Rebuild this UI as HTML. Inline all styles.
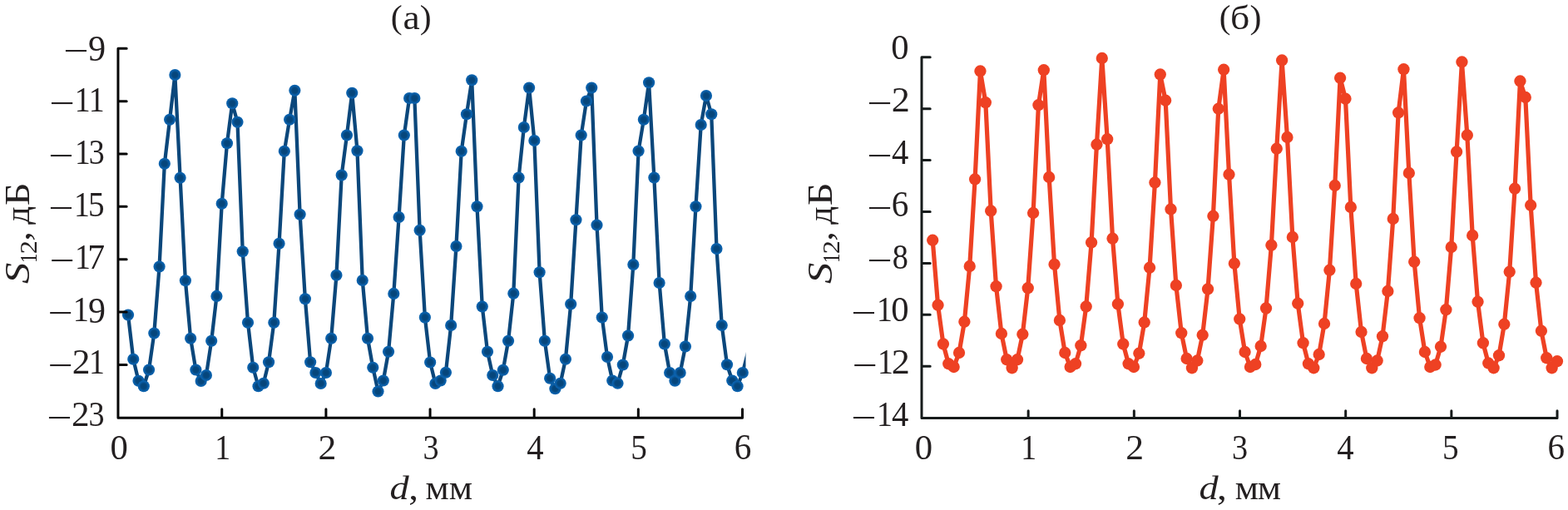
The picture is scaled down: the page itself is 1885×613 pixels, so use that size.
<!DOCTYPE html>
<html lang="ru"><head><meta charset="utf-8"><title>S12(d)</title>
<style>html,body{margin:0;padding:0;background:#fff}body{width:1885px;height:613px;overflow:hidden}svg{display:block}text{font-family:"Liberation Serif",serif;font-size:42px;fill:#231f20}.ax{stroke-width:3.00;fill:none;stroke-linecap:round;stroke-linejoin:round}</style></head><body>
<svg width="1885" height="613" viewBox="0 0 1885 613">
<rect width="1885" height="613" fill="#fff"/>
<defs><clipPath id="cl"><rect x="0" y="0" width="896.5" height="613"/></clipPath><radialGradient id="mg"><stop offset="0" stop-color="#06457a"/><stop offset="0.45" stop-color="#06477d"/><stop offset="0.8" stop-color="#0a5fa9"/><stop offset="1" stop-color="#0b63ae"/></radialGradient></defs>
<path d="M154.00 378.50 L160.26 431.75 L166.52 457.75 L172.78 464.25 L179.04 444.50 L185.31 400.50 L191.57 320.50 L197.83 196.75 L204.09 143.75 L210.35 90.00 L216.61 213.75 L222.87 337.25 L229.13 406.75 L235.39 444.50 L241.65 458.00 L247.92 451.00 L254.18 409.75 L260.44 355.95 L266.70 244.75 L272.96 172.25 L279.22 124.25 L285.48 146.75 L291.74 302.25 L298.00 387.75 L304.26 441.75 L310.52 464.25 L316.79 460.75 L323.05 435.25 L329.31 387.75 L335.57 292.75 L341.83 181.75 L348.09 143.75 L354.35 108.75 L360.61 257.75 L366.87 359.30 L373.13 435.25 L379.40 448.00 L385.66 461.00 L391.92 448.00 L398.18 406.75 L404.44 330.75 L410.70 210.50 L416.96 162.50 L423.22 111.75 L429.48 181.25 L435.75 337.00 L442.01 406.75 L448.27 441.75 L454.53 470.50 L460.79 457.50 L467.05 422.75 L473.31 352.90 L479.57 261.00 L485.83 162.50 L492.09 118.00 L498.36 118.00 L504.62 276.75 L510.88 381.50 L517.14 435.50 L523.40 461.00 L529.66 457.50 L535.92 447.75 L542.18 391.00 L548.44 296.00 L554.70 181.75 L560.97 137.25 L567.23 96.25 L573.49 248.25 L579.75 368.50 L586.01 422.75 L592.27 451.00 L598.53 464.25 L604.79 444.75 L611.05 409.75 L617.31 352.70 L623.58 213.50 L629.84 153.00 L636.10 105.50 L642.36 169.00 L648.62 327.25 L654.88 409.75 L661.14 454.75 L667.40 467.25 L673.66 460.75 L679.92 431.75 L686.19 365.50 L692.45 264.25 L698.71 162.50 L704.97 121.50 L711.23 105.50 L717.49 270.50 L723.75 381.50 L730.01 429.00 L736.27 457.50 L742.53 460.75 L748.79 438.50 L755.06 403.50 L761.32 318.00 L767.58 181.50 L773.84 143.75 L780.10 99.25 L786.36 213.50 L792.62 340.00 L798.88 413.50 L805.14 448.00 L811.40 457.75 L817.67 448.00 L823.93 416.50 L830.19 356.10 L836.45 248.25 L842.71 150.00 L848.97 115.00 L855.23 137.25 L861.49 299.00 L867.75 391.00 L874.01 438.25 L880.28 457.50 L886.54 464.25 L892.80 448.00 L899.06 423.50" fill="none" stroke="#0b477b" stroke-width="4.30" stroke-linejoin="round" clip-path="url(#cl)"/>
<g fill="url(#mg)" stroke="none" stroke-width="0.00">
<circle cx="154.00" cy="378.50" r="7.10"/>
<circle cx="160.26" cy="431.75" r="7.10"/>
<circle cx="166.52" cy="457.75" r="7.10"/>
<circle cx="172.78" cy="464.25" r="7.10"/>
<circle cx="179.04" cy="444.50" r="7.10"/>
<circle cx="185.31" cy="400.50" r="7.10"/>
<circle cx="191.57" cy="320.50" r="7.10"/>
<circle cx="197.83" cy="196.75" r="7.10"/>
<circle cx="204.09" cy="143.75" r="7.10"/>
<circle cx="210.35" cy="90.00" r="7.10"/>
<circle cx="216.61" cy="213.75" r="7.10"/>
<circle cx="222.87" cy="337.25" r="7.10"/>
<circle cx="229.13" cy="406.75" r="7.10"/>
<circle cx="235.39" cy="444.50" r="7.10"/>
<circle cx="241.65" cy="458.00" r="7.10"/>
<circle cx="247.92" cy="451.00" r="7.10"/>
<circle cx="254.18" cy="409.75" r="7.10"/>
<circle cx="260.44" cy="355.95" r="7.10"/>
<circle cx="266.70" cy="244.75" r="7.10"/>
<circle cx="272.96" cy="172.25" r="7.10"/>
<circle cx="279.22" cy="124.25" r="7.10"/>
<circle cx="285.48" cy="146.75" r="7.10"/>
<circle cx="291.74" cy="302.25" r="7.10"/>
<circle cx="298.00" cy="387.75" r="7.10"/>
<circle cx="304.26" cy="441.75" r="7.10"/>
<circle cx="310.52" cy="464.25" r="7.10"/>
<circle cx="316.79" cy="460.75" r="7.10"/>
<circle cx="323.05" cy="435.25" r="7.10"/>
<circle cx="329.31" cy="387.75" r="7.10"/>
<circle cx="335.57" cy="292.75" r="7.10"/>
<circle cx="341.83" cy="181.75" r="7.10"/>
<circle cx="348.09" cy="143.75" r="7.10"/>
<circle cx="354.35" cy="108.75" r="7.10"/>
<circle cx="360.61" cy="257.75" r="7.10"/>
<circle cx="366.87" cy="359.30" r="7.10"/>
<circle cx="373.13" cy="435.25" r="7.10"/>
<circle cx="379.40" cy="448.00" r="7.10"/>
<circle cx="385.66" cy="461.00" r="7.10"/>
<circle cx="391.92" cy="448.00" r="7.10"/>
<circle cx="398.18" cy="406.75" r="7.10"/>
<circle cx="404.44" cy="330.75" r="7.10"/>
<circle cx="410.70" cy="210.50" r="7.10"/>
<circle cx="416.96" cy="162.50" r="7.10"/>
<circle cx="423.22" cy="111.75" r="7.10"/>
<circle cx="429.48" cy="181.25" r="7.10"/>
<circle cx="435.75" cy="337.00" r="7.10"/>
<circle cx="442.01" cy="406.75" r="7.10"/>
<circle cx="448.27" cy="441.75" r="7.10"/>
<circle cx="454.53" cy="470.50" r="7.10"/>
<circle cx="460.79" cy="457.50" r="7.10"/>
<circle cx="467.05" cy="422.75" r="7.10"/>
<circle cx="473.31" cy="352.90" r="7.10"/>
<circle cx="479.57" cy="261.00" r="7.10"/>
<circle cx="485.83" cy="162.50" r="7.10"/>
<circle cx="492.09" cy="118.00" r="7.10"/>
<circle cx="498.36" cy="118.00" r="7.10"/>
<circle cx="504.62" cy="276.75" r="7.10"/>
<circle cx="510.88" cy="381.50" r="7.10"/>
<circle cx="517.14" cy="435.50" r="7.10"/>
<circle cx="523.40" cy="461.00" r="7.10"/>
<circle cx="529.66" cy="457.50" r="7.10"/>
<circle cx="535.92" cy="447.75" r="7.10"/>
<circle cx="542.18" cy="391.00" r="7.10"/>
<circle cx="548.44" cy="296.00" r="7.10"/>
<circle cx="554.70" cy="181.75" r="7.10"/>
<circle cx="560.97" cy="137.25" r="7.10"/>
<circle cx="567.23" cy="96.25" r="7.10"/>
<circle cx="573.49" cy="248.25" r="7.10"/>
<circle cx="579.75" cy="368.50" r="7.10"/>
<circle cx="586.01" cy="422.75" r="7.10"/>
<circle cx="592.27" cy="451.00" r="7.10"/>
<circle cx="598.53" cy="464.25" r="7.10"/>
<circle cx="604.79" cy="444.75" r="7.10"/>
<circle cx="611.05" cy="409.75" r="7.10"/>
<circle cx="617.31" cy="352.70" r="7.10"/>
<circle cx="623.58" cy="213.50" r="7.10"/>
<circle cx="629.84" cy="153.00" r="7.10"/>
<circle cx="636.10" cy="105.50" r="7.10"/>
<circle cx="642.36" cy="169.00" r="7.10"/>
<circle cx="648.62" cy="327.25" r="7.10"/>
<circle cx="654.88" cy="409.75" r="7.10"/>
<circle cx="661.14" cy="454.75" r="7.10"/>
<circle cx="667.40" cy="467.25" r="7.10"/>
<circle cx="673.66" cy="460.75" r="7.10"/>
<circle cx="679.92" cy="431.75" r="7.10"/>
<circle cx="686.19" cy="365.50" r="7.10"/>
<circle cx="692.45" cy="264.25" r="7.10"/>
<circle cx="698.71" cy="162.50" r="7.10"/>
<circle cx="704.97" cy="121.50" r="7.10"/>
<circle cx="711.23" cy="105.50" r="7.10"/>
<circle cx="717.49" cy="270.50" r="7.10"/>
<circle cx="723.75" cy="381.50" r="7.10"/>
<circle cx="730.01" cy="429.00" r="7.10"/>
<circle cx="736.27" cy="457.50" r="7.10"/>
<circle cx="742.53" cy="460.75" r="7.10"/>
<circle cx="748.79" cy="438.50" r="7.10"/>
<circle cx="755.06" cy="403.50" r="7.10"/>
<circle cx="761.32" cy="318.00" r="7.10"/>
<circle cx="767.58" cy="181.50" r="7.10"/>
<circle cx="773.84" cy="143.75" r="7.10"/>
<circle cx="780.10" cy="99.25" r="7.10"/>
<circle cx="786.36" cy="213.50" r="7.10"/>
<circle cx="792.62" cy="340.00" r="7.10"/>
<circle cx="798.88" cy="413.50" r="7.10"/>
<circle cx="805.14" cy="448.00" r="7.10"/>
<circle cx="811.40" cy="457.75" r="7.10"/>
<circle cx="817.67" cy="448.00" r="7.10"/>
<circle cx="823.93" cy="416.50" r="7.10"/>
<circle cx="830.19" cy="356.10" r="7.10"/>
<circle cx="836.45" cy="248.25" r="7.10"/>
<circle cx="842.71" cy="150.00" r="7.10"/>
<circle cx="848.97" cy="115.00" r="7.10"/>
<circle cx="855.23" cy="137.25" r="7.10"/>
<circle cx="861.49" cy="299.00" r="7.10"/>
<circle cx="867.75" cy="391.00" r="7.10"/>
<circle cx="874.01" cy="438.25" r="7.10"/>
<circle cx="880.28" cy="457.50" r="7.10"/>
<circle cx="886.54" cy="464.25" r="7.10"/>
<circle cx="892.80" cy="448.00" r="7.10"/>
</g>
<path class="ax" stroke="#060606" d="M141.95 58.30 V502.20 H892.50 M141.95 58.30 h10.20 M141.95 121.65 h10.20 M141.95 185.00 h10.20 M141.95 248.35 h10.20 M141.95 311.70 h10.20 M141.95 375.05 h10.20 M141.95 438.40 h10.20 M266.75 502.20 v-10.50 M391.90 502.20 v-10.50 M517.05 502.20 v-10.50 M642.20 502.20 v-10.50 M767.35 502.20 v-10.50 M892.50 502.20 v-10.50"/>
<text><tspan x="132.57" y="551.90" textLength="21.35" lengthAdjust="spacingAndGlyphs">0</tspan></text>
<text><tspan x="258.31" y="551.90" textLength="18.89" lengthAdjust="spacingAndGlyphs">1</tspan></text>
<text><tspan x="382.64" y="551.90" textLength="21.83" lengthAdjust="spacingAndGlyphs">2</tspan></text>
<text><tspan x="508.61" y="551.90" textLength="19.12" lengthAdjust="spacingAndGlyphs">3</tspan></text>
<text><tspan x="633.13" y="551.90" textLength="20.33" lengthAdjust="spacingAndGlyphs">4</tspan></text>
<text><tspan x="758.22" y="551.90" textLength="19.61" lengthAdjust="spacingAndGlyphs">5</tspan></text>
<text><tspan x="882.86" y="551.86" font-size="44.80" textLength="20.60" lengthAdjust="spacingAndGlyphs">6</tspan></text>
<text><tspan x="76.31" y="74.90" textLength="30.42" lengthAdjust="spacingAndGlyphs">−</tspan><tspan x="105.94" y="72.56" font-size="44.80" textLength="21.09" lengthAdjust="spacingAndGlyphs">9</tspan></text>
<text><tspan x="59.19" y="137.90" textLength="30.66" lengthAdjust="spacingAndGlyphs">−</tspan><tspan x="89.78" y="133.95" textLength="18.89" lengthAdjust="spacingAndGlyphs">1</tspan><tspan x="106.78" y="133.95" textLength="18.89" lengthAdjust="spacingAndGlyphs">1</tspan></text>
<text><tspan x="58.31" y="200.90" textLength="30.42" lengthAdjust="spacingAndGlyphs">−</tspan><tspan x="89.90" y="196.95" textLength="18.75" lengthAdjust="spacingAndGlyphs">1</tspan><tspan x="106.68" y="196.95" textLength="19.00" lengthAdjust="spacingAndGlyphs">3</tspan></text>
<text><tspan x="58.31" y="263.90" textLength="30.42" lengthAdjust="spacingAndGlyphs">−</tspan><tspan x="88.88" y="259.95" textLength="18.89" lengthAdjust="spacingAndGlyphs">1</tspan><tspan x="106.12" y="259.95" textLength="19.61" lengthAdjust="spacingAndGlyphs">5</tspan></text>
<text><tspan x="59.42" y="326.90" textLength="30.30" lengthAdjust="spacingAndGlyphs">−</tspan><tspan x="89.88" y="322.95" textLength="18.89" lengthAdjust="spacingAndGlyphs">1</tspan><tspan x="105.25" y="322.95" textLength="20.85" lengthAdjust="spacingAndGlyphs">7</tspan></text>
<text><tspan x="57.42" y="389.90" textLength="30.30" lengthAdjust="spacingAndGlyphs">−</tspan><tspan x="87.73" y="385.95" textLength="19.17" lengthAdjust="spacingAndGlyphs">1</tspan><tspan x="106.05" y="387.56" font-size="44.80" textLength="20.97" lengthAdjust="spacingAndGlyphs">9</tspan></text>
<text><tspan x="57.42" y="452.90" textLength="30.30" lengthAdjust="spacingAndGlyphs">−</tspan><tspan x="86.89" y="448.95" textLength="21.70" lengthAdjust="spacingAndGlyphs">2</tspan><tspan x="106.88" y="448.95" textLength="18.89" lengthAdjust="spacingAndGlyphs">1</tspan></text>
<text><tspan x="56.31" y="515.90" textLength="30.42" lengthAdjust="spacingAndGlyphs">−</tspan><tspan x="86.00" y="511.95" textLength="21.58" lengthAdjust="spacingAndGlyphs">2</tspan><tspan x="106.47" y="511.95" textLength="19.12" lengthAdjust="spacingAndGlyphs">3</tspan></text>
<path d="M1121.20 288.75 L1127.56 366.75 L1133.92 413.50 L1140.29 437.25 L1146.65 441.00 L1153.01 424.00 L1159.38 386.75 L1165.74 320.00 L1172.10 215.50 L1178.46 85.50 L1184.83 123.25 L1191.19 253.50 L1197.55 344.25 L1203.91 401.00 L1210.28 432.25 L1216.64 442.25 L1223.00 432.25 L1229.36 401.75 L1235.73 346.25 L1242.09 256.00 L1248.45 126.25 L1254.81 84.25 L1261.17 213.00 L1267.54 317.75 L1273.90 385.00 L1280.26 424.00 L1286.62 441.00 L1292.99 437.25 L1299.35 415.25 L1305.71 368.50 L1312.08 291.50 L1318.44 173.75 L1324.80 70.00 L1331.16 167.25 L1337.53 286.75 L1343.89 365.50 L1350.25 413.50 L1356.61 437.25 L1362.98 441.00 L1369.34 424.75 L1375.70 387.50 L1382.06 321.75 L1388.42 219.50 L1394.79 89.50 L1401.15 120.75 L1407.51 251.50 L1413.88 343.00 L1420.24 400.25 L1426.60 431.00 L1432.96 442.25 L1439.33 433.50 L1445.69 402.75 L1452.05 347.50 L1458.41 259.75 L1464.78 130.75 L1471.14 83.75 L1477.50 209.75 L1483.86 316.75 L1490.22 383.50 L1496.59 423.00 L1502.95 441.00 L1509.31 438.00 L1515.67 416.00 L1522.04 370.50 L1528.40 294.75 L1534.76 178.75 L1541.12 72.50 L1547.49 165.00 L1553.85 285.00 L1560.21 364.75 L1566.58 412.25 L1572.94 437.25 L1579.30 442.25 L1585.66 426.00 L1592.03 389.00 L1598.39 324.75 L1604.75 223.00 L1611.11 93.75 L1617.47 118.75 L1623.84 249.00 L1630.20 341.00 L1636.56 399.00 L1642.93 431.00 L1649.29 442.25 L1655.65 433.50 L1662.01 404.25 L1668.38 350.00 L1674.74 263.00 L1681.10 135.50 L1687.46 83.25 L1693.83 208.00 L1700.19 314.75 L1706.55 382.25 L1712.91 423.00 L1719.28 441.00 L1725.64 438.50 L1732.00 416.75 L1738.36 372.25 L1744.72 297.00 L1751.09 182.50 L1757.45 74.50 L1763.81 162.50 L1770.18 283.00 L1776.54 362.75 L1782.90 412.25 L1789.26 436.50 L1795.62 442.25 L1801.99 427.25 L1808.35 389.75 L1814.71 326.75 L1821.08 226.75 L1827.44 97.50 L1833.80 117.00 L1840.16 246.75 L1846.53 339.75 L1852.89 397.75 L1859.25 430.25 L1865.61 442.25 L1871.97 434.25" fill="none" stroke="#ee4123" stroke-width="5.20" stroke-linejoin="round"/>
<g fill="#ee4123" stroke="none" stroke-width="0.00">
<circle cx="1121.20" cy="288.75" r="7.15"/>
<circle cx="1127.56" cy="366.75" r="7.15"/>
<circle cx="1133.92" cy="413.50" r="7.15"/>
<circle cx="1140.29" cy="437.25" r="7.15"/>
<circle cx="1146.65" cy="441.00" r="7.15"/>
<circle cx="1153.01" cy="424.00" r="7.15"/>
<circle cx="1159.38" cy="386.75" r="7.15"/>
<circle cx="1165.74" cy="320.00" r="7.15"/>
<circle cx="1172.10" cy="215.50" r="7.15"/>
<circle cx="1178.46" cy="85.50" r="7.15"/>
<circle cx="1184.83" cy="123.25" r="7.15"/>
<circle cx="1191.19" cy="253.50" r="7.15"/>
<circle cx="1197.55" cy="344.25" r="7.15"/>
<circle cx="1203.91" cy="401.00" r="7.15"/>
<circle cx="1210.28" cy="432.25" r="7.15"/>
<circle cx="1216.64" cy="442.25" r="7.15"/>
<circle cx="1223.00" cy="432.25" r="7.15"/>
<circle cx="1229.36" cy="401.75" r="7.15"/>
<circle cx="1235.73" cy="346.25" r="7.15"/>
<circle cx="1242.09" cy="256.00" r="7.15"/>
<circle cx="1248.45" cy="126.25" r="7.15"/>
<circle cx="1254.81" cy="84.25" r="7.15"/>
<circle cx="1261.17" cy="213.00" r="7.15"/>
<circle cx="1267.54" cy="317.75" r="7.15"/>
<circle cx="1273.90" cy="385.00" r="7.15"/>
<circle cx="1280.26" cy="424.00" r="7.15"/>
<circle cx="1286.62" cy="441.00" r="7.15"/>
<circle cx="1292.99" cy="437.25" r="7.15"/>
<circle cx="1299.35" cy="415.25" r="7.15"/>
<circle cx="1305.71" cy="368.50" r="7.15"/>
<circle cx="1312.08" cy="291.50" r="7.15"/>
<circle cx="1318.44" cy="173.75" r="7.15"/>
<circle cx="1324.80" cy="70.00" r="7.15"/>
<circle cx="1331.16" cy="167.25" r="7.15"/>
<circle cx="1337.53" cy="286.75" r="7.15"/>
<circle cx="1343.89" cy="365.50" r="7.15"/>
<circle cx="1350.25" cy="413.50" r="7.15"/>
<circle cx="1356.61" cy="437.25" r="7.15"/>
<circle cx="1362.98" cy="441.00" r="7.15"/>
<circle cx="1369.34" cy="424.75" r="7.15"/>
<circle cx="1375.70" cy="387.50" r="7.15"/>
<circle cx="1382.06" cy="321.75" r="7.15"/>
<circle cx="1388.42" cy="219.50" r="7.15"/>
<circle cx="1394.79" cy="89.50" r="7.15"/>
<circle cx="1401.15" cy="120.75" r="7.15"/>
<circle cx="1407.51" cy="251.50" r="7.15"/>
<circle cx="1413.88" cy="343.00" r="7.15"/>
<circle cx="1420.24" cy="400.25" r="7.15"/>
<circle cx="1426.60" cy="431.00" r="7.15"/>
<circle cx="1432.96" cy="442.25" r="7.15"/>
<circle cx="1439.33" cy="433.50" r="7.15"/>
<circle cx="1445.69" cy="402.75" r="7.15"/>
<circle cx="1452.05" cy="347.50" r="7.15"/>
<circle cx="1458.41" cy="259.75" r="7.15"/>
<circle cx="1464.78" cy="130.75" r="7.15"/>
<circle cx="1471.14" cy="83.75" r="7.15"/>
<circle cx="1477.50" cy="209.75" r="7.15"/>
<circle cx="1483.86" cy="316.75" r="7.15"/>
<circle cx="1490.22" cy="383.50" r="7.15"/>
<circle cx="1496.59" cy="423.00" r="7.15"/>
<circle cx="1502.95" cy="441.00" r="7.15"/>
<circle cx="1509.31" cy="438.00" r="7.15"/>
<circle cx="1515.67" cy="416.00" r="7.15"/>
<circle cx="1522.04" cy="370.50" r="7.15"/>
<circle cx="1528.40" cy="294.75" r="7.15"/>
<circle cx="1534.76" cy="178.75" r="7.15"/>
<circle cx="1541.12" cy="72.50" r="7.15"/>
<circle cx="1547.49" cy="165.00" r="7.15"/>
<circle cx="1553.85" cy="285.00" r="7.15"/>
<circle cx="1560.21" cy="364.75" r="7.15"/>
<circle cx="1566.58" cy="412.25" r="7.15"/>
<circle cx="1572.94" cy="437.25" r="7.15"/>
<circle cx="1579.30" cy="442.25" r="7.15"/>
<circle cx="1585.66" cy="426.00" r="7.15"/>
<circle cx="1592.03" cy="389.00" r="7.15"/>
<circle cx="1598.39" cy="324.75" r="7.15"/>
<circle cx="1604.75" cy="223.00" r="7.15"/>
<circle cx="1611.11" cy="93.75" r="7.15"/>
<circle cx="1617.47" cy="118.75" r="7.15"/>
<circle cx="1623.84" cy="249.00" r="7.15"/>
<circle cx="1630.20" cy="341.00" r="7.15"/>
<circle cx="1636.56" cy="399.00" r="7.15"/>
<circle cx="1642.93" cy="431.00" r="7.15"/>
<circle cx="1649.29" cy="442.25" r="7.15"/>
<circle cx="1655.65" cy="433.50" r="7.15"/>
<circle cx="1662.01" cy="404.25" r="7.15"/>
<circle cx="1668.38" cy="350.00" r="7.15"/>
<circle cx="1674.74" cy="263.00" r="7.15"/>
<circle cx="1681.10" cy="135.50" r="7.15"/>
<circle cx="1687.46" cy="83.25" r="7.15"/>
<circle cx="1693.83" cy="208.00" r="7.15"/>
<circle cx="1700.19" cy="314.75" r="7.15"/>
<circle cx="1706.55" cy="382.25" r="7.15"/>
<circle cx="1712.91" cy="423.00" r="7.15"/>
<circle cx="1719.28" cy="441.00" r="7.15"/>
<circle cx="1725.64" cy="438.50" r="7.15"/>
<circle cx="1732.00" cy="416.75" r="7.15"/>
<circle cx="1738.36" cy="372.25" r="7.15"/>
<circle cx="1744.72" cy="297.00" r="7.15"/>
<circle cx="1751.09" cy="182.50" r="7.15"/>
<circle cx="1757.45" cy="74.50" r="7.15"/>
<circle cx="1763.81" cy="162.50" r="7.15"/>
<circle cx="1770.18" cy="283.00" r="7.15"/>
<circle cx="1776.54" cy="362.75" r="7.15"/>
<circle cx="1782.90" cy="412.25" r="7.15"/>
<circle cx="1789.26" cy="436.50" r="7.15"/>
<circle cx="1795.62" cy="442.25" r="7.15"/>
<circle cx="1801.99" cy="427.25" r="7.15"/>
<circle cx="1808.35" cy="389.75" r="7.15"/>
<circle cx="1814.71" cy="326.75" r="7.15"/>
<circle cx="1821.08" cy="226.75" r="7.15"/>
<circle cx="1827.44" cy="97.50" r="7.15"/>
<circle cx="1833.80" cy="117.00" r="7.15"/>
<circle cx="1840.16" cy="246.75" r="7.15"/>
<circle cx="1846.53" cy="339.75" r="7.15"/>
<circle cx="1852.89" cy="397.75" r="7.15"/>
<circle cx="1859.25" cy="430.25" r="7.15"/>
<circle cx="1865.61" cy="442.25" r="7.15"/>
<circle cx="1871.97" cy="434.25" r="7.15"/>
</g>
<path class="ax" stroke="#161b1b" d="M1108.00 68.80 V502.40 H1872.02 M1108.00 68.80 h10.20 M1108.00 130.70 h10.20 M1108.00 192.60 h10.20 M1108.00 254.50 h10.20 M1108.00 316.40 h10.20 M1108.00 378.30 h10.20 M1108.00 440.20 h10.20 M1236.17 502.40 v-8.70 M1363.34 502.40 v-8.70 M1490.51 502.40 v-8.70 M1617.68 502.40 v-8.70 M1744.85 502.40 v-8.70 M1872.02 502.40 v-8.70"/>
<text><tspan x="1099.82" y="551.90" textLength="21.35" lengthAdjust="spacingAndGlyphs">0</tspan></text>
<text><tspan x="1227.28" y="551.90" textLength="18.89" lengthAdjust="spacingAndGlyphs">1</tspan></text>
<text><tspan x="1353.33" y="551.90" textLength="21.83" lengthAdjust="spacingAndGlyphs">2</tspan></text>
<text><tspan x="1481.02" y="551.90" textLength="19.12" lengthAdjust="spacingAndGlyphs">3</tspan></text>
<text><tspan x="1607.26" y="551.90" textLength="20.33" lengthAdjust="spacingAndGlyphs">4</tspan></text>
<text><tspan x="1734.07" y="551.90" textLength="19.61" lengthAdjust="spacingAndGlyphs">5</tspan></text>
<text><tspan x="1860.43" y="551.86" font-size="44.80" textLength="20.60" lengthAdjust="spacingAndGlyphs">6</tspan></text>
<text><tspan x="1071.37" y="70.95" textLength="21.35" lengthAdjust="spacingAndGlyphs">0</tspan></text>
<text><tspan x="1042.30" y="137.90" textLength="30.54" lengthAdjust="spacingAndGlyphs">−</tspan><tspan x="1071.76" y="133.95" textLength="22.08" lengthAdjust="spacingAndGlyphs">2</tspan></text>
<text><tspan x="1042.30" y="200.90" textLength="30.54" lengthAdjust="spacingAndGlyphs">−</tspan><tspan x="1072.01" y="196.95" textLength="20.33" lengthAdjust="spacingAndGlyphs">4</tspan></text>
<text><tspan x="1042.30" y="263.90" textLength="30.54" lengthAdjust="spacingAndGlyphs">−</tspan><tspan x="1071.73" y="259.91" font-size="44.80" textLength="20.60" lengthAdjust="spacingAndGlyphs">6</tspan></text>
<text><tspan x="1042.30" y="326.90" textLength="30.54" lengthAdjust="spacingAndGlyphs">−</tspan><tspan x="1072.64" y="322.95" textLength="19.11" lengthAdjust="spacingAndGlyphs">8</tspan></text>
<text><tspan x="1023.31" y="389.90" textLength="30.42" lengthAdjust="spacingAndGlyphs">−</tspan><tspan x="1053.88" y="385.95" textLength="18.89" lengthAdjust="spacingAndGlyphs">1</tspan><tspan x="1071.37" y="385.95" textLength="21.35" lengthAdjust="spacingAndGlyphs">0</tspan></text>
<text><tspan x="1024.41" y="452.90" textLength="30.42" lengthAdjust="spacingAndGlyphs">−</tspan><tspan x="1054.88" y="448.95" textLength="18.89" lengthAdjust="spacingAndGlyphs">1</tspan><tspan x="1071.76" y="448.95" textLength="22.08" lengthAdjust="spacingAndGlyphs">2</tspan></text>
<text><tspan x="1023.31" y="515.90" textLength="30.42" lengthAdjust="spacingAndGlyphs">−</tspan><tspan x="1053.88" y="511.95" textLength="18.89" lengthAdjust="spacingAndGlyphs">1</tspan><tspan x="1072.01" y="511.95" textLength="20.33" lengthAdjust="spacingAndGlyphs">4</tspan></text>
<text><tspan x="469.71" y="33.99" font-size="39.04" textLength="13.94" lengthAdjust="spacingAndGlyphs">(</tspan><tspan x="484.60" y="34.99" textLength="20.22" lengthAdjust="spacingAndGlyphs">а</tspan><tspan x="504.66" y="33.99" font-size="39.04" textLength="13.87" lengthAdjust="spacingAndGlyphs">)</tspan></text>
<text><tspan x="1465.89" y="33.99" font-size="39.04" textLength="13.74" lengthAdjust="spacingAndGlyphs">(</tspan><tspan x="1479.05" y="35.02" font-size="39.28" textLength="23.29" lengthAdjust="spacingAndGlyphs">б</tspan><tspan x="1502.54" y="33.99" font-size="39.04" textLength="14.00" lengthAdjust="spacingAndGlyphs">)</tspan></text>
<text><tspan x="468.50" y="599.98" font-size="40.48" font-style="italic" textLength="23.19" lengthAdjust="spacingAndGlyphs">d</tspan><tspan x="491.21" y="599.85" textLength="11.75" lengthAdjust="spacingAndGlyphs">,</tspan> <tspan x="511.57" y="599.85" textLength="28.27" lengthAdjust="spacingAndGlyphs">м</tspan><tspan x="539.72" y="599.85" textLength="28.33" lengthAdjust="spacingAndGlyphs">м</tspan></text>
<text><tspan x="1441.60" y="599.98" font-size="40.48" font-style="italic" textLength="23.19" lengthAdjust="spacingAndGlyphs">d</tspan><tspan x="1463.08" y="599.85" textLength="11.92" lengthAdjust="spacingAndGlyphs">,</tspan> <tspan x="1484.67" y="599.85" textLength="28.27" lengthAdjust="spacingAndGlyphs">м</tspan><tspan x="1511.67" y="599.85" textLength="28.27" lengthAdjust="spacingAndGlyphs">м</tspan></text>
<text transform="rotate(-90)"><tspan x="-340.90" y="35.20" font-style="italic" textLength="25.41" lengthAdjust="spacingAndGlyphs">S</tspan><tspan x="-316.10" y="43.90" font-size="29.80" textLength="11.36" lengthAdjust="spacingAndGlyphs">1</tspan><tspan x="-305.31" y="43.90" font-size="29.80" textLength="16.09" lengthAdjust="spacingAndGlyphs">2</tspan><tspan x="-289.76" y="35.20" textLength="11.58" lengthAdjust="spacingAndGlyphs">,</tspan> <tspan x="-269.80" y="35.20" textLength="21.87" lengthAdjust="spacingAndGlyphs">д</tspan><tspan x="-247.20" y="35.20" textLength="27.93" lengthAdjust="spacingAndGlyphs">Б</tspan></text>
<text transform="rotate(-90)"><tspan x="-340.90" y="1000.20" font-style="italic" textLength="25.41" lengthAdjust="spacingAndGlyphs">S</tspan><tspan x="-316.10" y="1008.90" font-size="29.80" textLength="11.36" lengthAdjust="spacingAndGlyphs">1</tspan><tspan x="-305.31" y="1008.90" font-size="29.80" textLength="16.09" lengthAdjust="spacingAndGlyphs">2</tspan><tspan x="-289.76" y="1000.20" textLength="11.58" lengthAdjust="spacingAndGlyphs">,</tspan> <tspan x="-269.80" y="1000.20" textLength="21.87" lengthAdjust="spacingAndGlyphs">д</tspan><tspan x="-247.20" y="1000.20" textLength="27.93" lengthAdjust="spacingAndGlyphs">Б</tspan></text>
</svg></body></html>
